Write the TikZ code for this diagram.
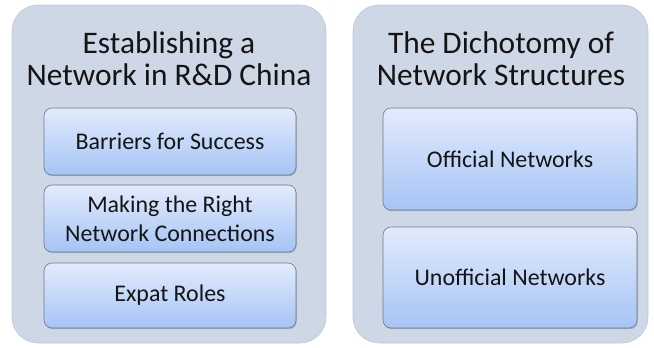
\documentclass[tikz,border=0pt]{standalone}
\usepackage{fontspec}
\setmainfont{Carlito}
\usetikzlibrary{shadows}
\definecolor{panelfill}{RGB}{206,215,230}
\definecolor{panelline}{RGB}{190,200,215}
\definecolor{boxtop}{RGB}{226,235,252}
\definecolor{boxbot}{RGB}{166,196,245}
\definecolor{boxline}{RGB}{110,120,135}
\tikzset{
  panel/.style={fill=panelfill, draw=panelline, line width=0.6pt, rounded corners=26bp},
  itembox/.style={draw=boxline, line width=0.6pt, rounded corners=8bp,
    top color=boxtop, bottom color=boxbot,
    drop shadow={shadow xshift=0.8bp, shadow yshift=-1.2bp, opacity=0.35, fill=black!60}},
  title/.style={font=\fontsize{31.5}{32.5}\selectfont, align=center, text=black!92},
  itemtext/.style={font=\fontsize{24}{29}\selectfont, align=center, text=black!92}
}
\begin{document}
\begin{tikzpicture}[x=1bp,y=-1bp]
\useasboundingbox (0,0) rectangle (654,347);
\fill[white] (0,0) rectangle (654,347);
% panels
\path[panel] (12,5) rectangle (326,343);
\path[panel] (353,5) rectangle (648,343);
% titles
\node[title] (t1) at (169,59) {Establishing a\\Network in R\&D China};
\node[title] (t2) at (501,59) {The Dichotomy of\\Network Structures};
% left items
\path[itembox] (44,108) rectangle (296,175);
\node[itemtext] (a1) at (170,141.5) {Barriers for Success};
\path[itembox] (44,185) rectangle (296,252);
\node[itemtext] (a2) at (170,218.5) {Making the Right\\Network Connections};
\path[itembox] (44,263) rectangle (296,328);
\node[itemtext] (a3) at (170,295.5) {Expat Roles};
% right items
\path[itembox] (383,108) rectangle (637,210);
\node[itemtext] (b1) at (510,159) {Official Networks};
\path[itembox] (383,227) rectangle (637,328);
\node[itemtext] (b2) at (510,277.5) {Unofficial Networks};
\end{tikzpicture}
\end{document}
